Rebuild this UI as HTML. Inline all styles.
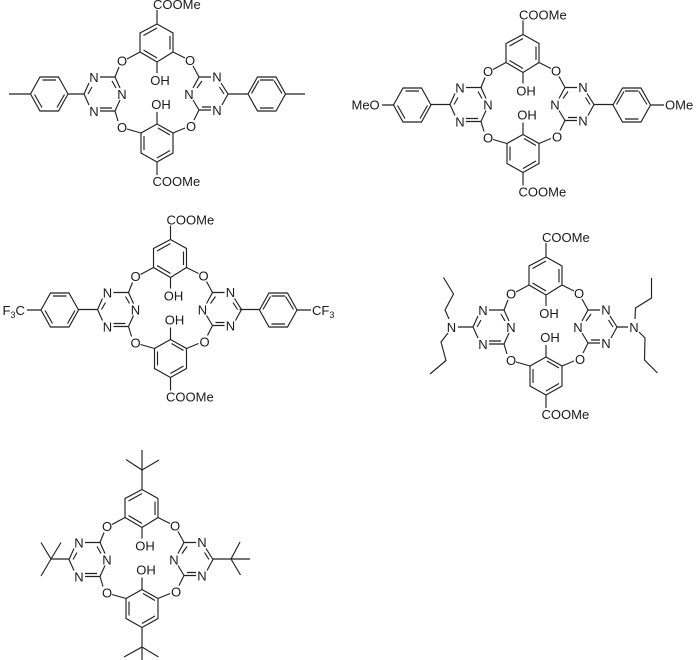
<!DOCTYPE html>
<html><head><meta charset="utf-8"><style>
html,body{margin:0;padding:0;background:#fff}
svg{display:block}
text{font-family:"Liberation Sans",sans-serif;font-size:13px;fill:#1a1a1a;stroke:none}
.m{text-anchor:middle}
path,use{fill:none}
path{stroke:#222;stroke-width:1.15}
</style></head><body>
<svg width="697" height="660" viewBox="0 0 697 660" xmlns="http://www.w3.org/2000/svg">
<defs>
<g id="core">
<path d="M157 24L140 33V52L157 62L173 52V33ZM143.500 35.500L157 28M170 36V49.500M143.500 50L157 58"/>
<path d="M140 52L127 59M173 52L185 58M119 67L115 77M193 66L199 77"/>
<path d="M115 77H100M115 77L120 88M112 81L116 88M115 111L120 100M115 111H100M112 108H100M89 105L84 94L89 83M88 94L92 87"/>
<path d="M199 77H211M199 77L193 88M202 81L197 88M221 83L228 94L222 105M224 94L219.500 87M199 110H211M202 107H211M193 100L199 110"/>
<path d="M157 62V73M157 112V124"/>
<path d="M157 124L141 133V153L157 162L173 153V133ZM144 136V150M157 158L170 150.500M158 128L170 135"/>
<path d="M118 121L115 111M127 129L141 133M173 133L185 128M194 120L199 110"/>
</g>
<g id="phL"><path d="M0 0L-9.500 -17H-28L-37.500 0L-28 17H-9.500ZM-12 -14H-25.500M-33.500 0.500L-26 13.500M-3.500 0.500L-11 13.500"/></g>
<g id="phR"><path d="M0 0L9.500 -17H28L37.500 0L28 17H9.500ZM12 -14H25.500M3.500 -0.500L11 -13.500M34 -0.500L26 -13.500M12 14H25.500"/></g>
</defs>

<!-- molecule 1 -->
<use href="#core"/>
<path d="M157 24V10M157 162V175M84 94H68M228 94H248M30.500 94H9M285.500 94H305"/>
<use href="#phL" x="68" y="94"/><use href="#phR" x="248" y="94"/>
<text x="153" y="9">COOMe</text><text x="152.500" y="186">COOMe</text>
<text class="m" x="122" y="65.500">O</text><text class="m" x="190" y="65">O</text>
<text class="m" x="122" y="132">O</text><text class="m" x="191" y="131">O</text>
<text class="m" x="160" y="85">OH</text><text class="m" x="161" y="109">OH</text>
<text class="m" x="94" y="82">N</text><text class="m" x="122" y="99">N</text><text class="m" x="94" y="116">N</text>
<text class="m" x="217" y="81.500">N</text><text class="m" x="189" y="99">N</text><text class="m" x="217" y="115">N</text>

<!-- molecule 2 -->
<g transform="translate(366 10.500)"><use href="#core"/>
<path d="M157 24V10M157 162V175M84 94H65M228 94H247"/>
<text x="153" y="9">COOMe</text><text x="152.500" y="186">COOMe</text>
<text class="m" x="122" y="65.500">O</text><text class="m" x="190" y="65">O</text>
<text class="m" x="122" y="132">O</text><text class="m" x="191" y="131">O</text>
<text class="m" x="160" y="85">OH</text><text class="m" x="161" y="109">OH</text>
<text class="m" x="94" y="82">N</text><text class="m" x="122" y="99">N</text><text class="m" x="94" y="116">N</text>
<text class="m" x="217" y="81.500">N</text><text class="m" x="189" y="99">N</text><text class="m" x="217" y="115">N</text>
</g>
<use href="#phL" x="431" y="105"/><use href="#phR" x="613" y="105"/>
<path d="M393.500 105H382M651 105H664"/>
<text x="351.500" y="109.500">MeO</text><text x="665" y="109.500">OMe</text>

<!-- molecule 3 -->
<g transform="translate(13.500 215.500)"><use href="#core"/>
<path d="M157 24V10M157 162V175M84 94H65M226 94H246"/>
<text x="153" y="9">COOMe</text><text x="152.500" y="186">COOMe</text>
<text class="m" x="122" y="65.500">O</text><text class="m" x="190" y="65">O</text>
<text class="m" x="122" y="132">O</text><text class="m" x="191" y="131">O</text>
<text class="m" x="160" y="85">OH</text><text class="m" x="161" y="109">OH</text>
<text class="m" x="94" y="82">N</text><text class="m" x="122" y="99">N</text><text class="m" x="94" y="116">N</text>
<text class="m" x="217" y="81.500">N</text><text class="m" x="189" y="99">N</text><text class="m" x="217" y="115">N</text>
</g>
<use href="#phL" x="78.500" y="310"/><use href="#phR" x="259.500" y="310"/>
<path d="M41 310H27M297 310H311"/>
<text x="2.500" y="315">F<tspan font-size="9" dy="3">3</tspan><tspan dy="-3">C</tspan></text>
<text x="312" y="315">CF<tspan font-size="9" dy="3">3</tspan></text>

<!-- molecule 4 -->
<g transform="translate(389 233)"><use href="#core"/>
<path d="M157 24V10M157 162V175"/>
<text x="153" y="9">COOMe</text><text x="152.500" y="186">COOMe</text>
<text class="m" x="122" y="65.500">O</text><text class="m" x="190" y="65">O</text>
<text class="m" x="122" y="132">O</text><text class="m" x="191" y="131">O</text>
<text class="m" x="160" y="85">OH</text><text class="m" x="161" y="109">OH</text>
<text class="m" x="94" y="82">N</text><text class="m" x="122" y="99">N</text><text class="m" x="94" y="116">N</text>
<text class="m" x="217" y="81.500">N</text><text class="m" x="189" y="99">N</text><text class="m" x="217" y="115">N</text>
</g>
<path d="M473 327H458M617 327H628"/>
<path d="M449 319L445 310L453.500 294L443.500 277.500M448 333L441 342L446 360.500L430 374"/>
<path d="M635 319L635.500 308L651.500 298V278M639 332L645 338L644.500 360L657.500 373"/>
<text class="m" x="451.500" y="332">N</text><text class="m" x="634" y="332">N</text>

<!-- molecule 5 -->
<g transform="translate(-15 465.500)"><use href="#core"/>
<text class="m" x="122" y="65.500">O</text><text class="m" x="190" y="65">O</text>
<text class="m" x="122" y="132">O</text><text class="m" x="191" y="131">O</text>
<text class="m" x="160" y="85">OH</text><text class="m" x="161" y="109">OH</text>
<text class="m" x="94" y="82">N</text><text class="m" x="122" y="99">N</text><text class="m" x="94" y="116">N</text>
<text class="m" x="217" y="81.500">N</text><text class="m" x="189" y="99">N</text><text class="m" x="217" y="115">N</text>
</g>
<path d="M142 489.500V470M142 450V470L126 459.500M142 470L159 460"/>
<path d="M142 627V647M142 660V647L124 657M142 647L158.500 657"/>
<path d="M69 559H51L41 542.500M51 559L61 542.500M51 559L41 576"/>
<path d="M213 559H231L240 542M231 559H250M231 559L240.500 575"/>
</svg>
</body></html>
